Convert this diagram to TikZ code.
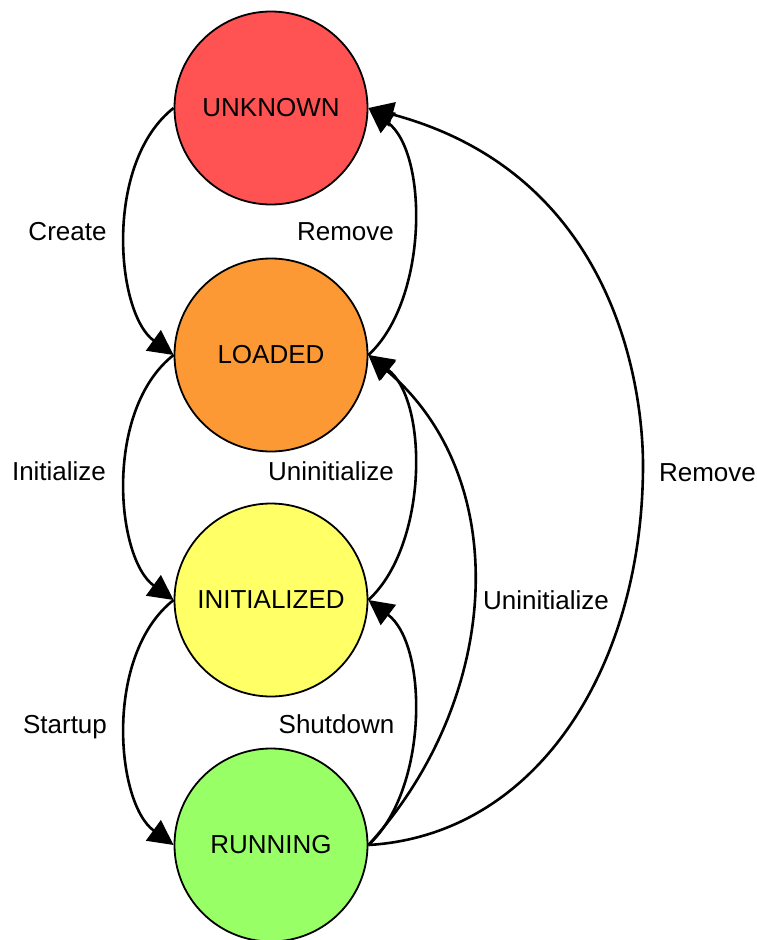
\documentclass[tikz,border=0pt]{standalone}
\usepackage{fontspec}
\setmainfont{Liberation Sans}
\usetikzlibrary{arrows.meta}
\definecolor{stUnknown}{RGB}{255,82,82}
\definecolor{stLoaded}{RGB}{252,153,52}
\definecolor{stInit}{RGB}{255,255,102}
\definecolor{stRun}{RGB}{153,255,102}
\begin{document}
\begin{tikzpicture}[x=1pt,y=-1pt,
  state/.style={circle, draw=black, line width=1.8pt, minimum size=193pt,
    inner sep=0pt, font=\fontsize{26}{30}\selectfont},
  trans/.style={draw=black, line width=2.6pt,
    -{Triangle[length=25pt,width=25pt]}},
  lbl/.style={anchor=base, inner sep=0pt, font=\fontsize{26}{30}\selectfont}]
\useasboundingbox (0,0) rectangle (757,940);

% states
\node[state, fill=stUnknown] (U) at (271,108) {UNKNOWN};
\node[state, fill=stLoaded]  (L) at (271,355) {LOADED};
\node[state, fill=stInit]    (I) at (271,600) {INITIALIZED};
\node[state, fill=stRun]     (R) at (271,845) {RUNNING};

% forward transitions (left side)
\draw[trans] (U.west) .. controls +(-70,55) and +(-58,-42) .. (L.west);
\draw[trans] (L.west) .. controls +(-70,55) and +(-58,-42) .. (I.west);
\draw[trans] (I.west) .. controls +(-70,55) and +(-58,-42) .. (R.west);

% backward transitions (right side)
\draw[trans] (L.east) .. controls +(60,-55) and +(60,45) .. (U.east);
\draw[trans] (I.east) .. controls +(60,-55) and +(60,45) .. (L.east);
\draw[trans] (R.east) .. controls +(60,-55) and +(60,45) .. (I.east);
\draw[trans] (R.east) .. controls +(132,-145) and +(147,125) .. (L.east);
\coordinate (rmid) at (643,465);
\draw[trans] (R.east) .. controls +(170,-10) and +(0,200) .. (rmid)
  .. controls +(0,-70) and +(251,67) .. (U.east);

% transition labels
\node[lbl] (tCreate)  at (67.5,240) {Create};
\node[lbl] (tRemove1) at (345.5,240) {Remove};
\node[lbl] (tInit)    at (59,480) {Initialize};
\node[lbl] (tUninit1) at (331,480) {Uninitialize};
\node[lbl] (tStart)   at (65,733) {Startup};
\node[lbl] (tShut)    at (336.5,733) {Shutdown};
\node[lbl] (tUninit2) at (546,609) {Uninitialize};
\node[lbl] (tRemove2) at (707.5,481) {Remove};
\end{tikzpicture}
\end{document}
